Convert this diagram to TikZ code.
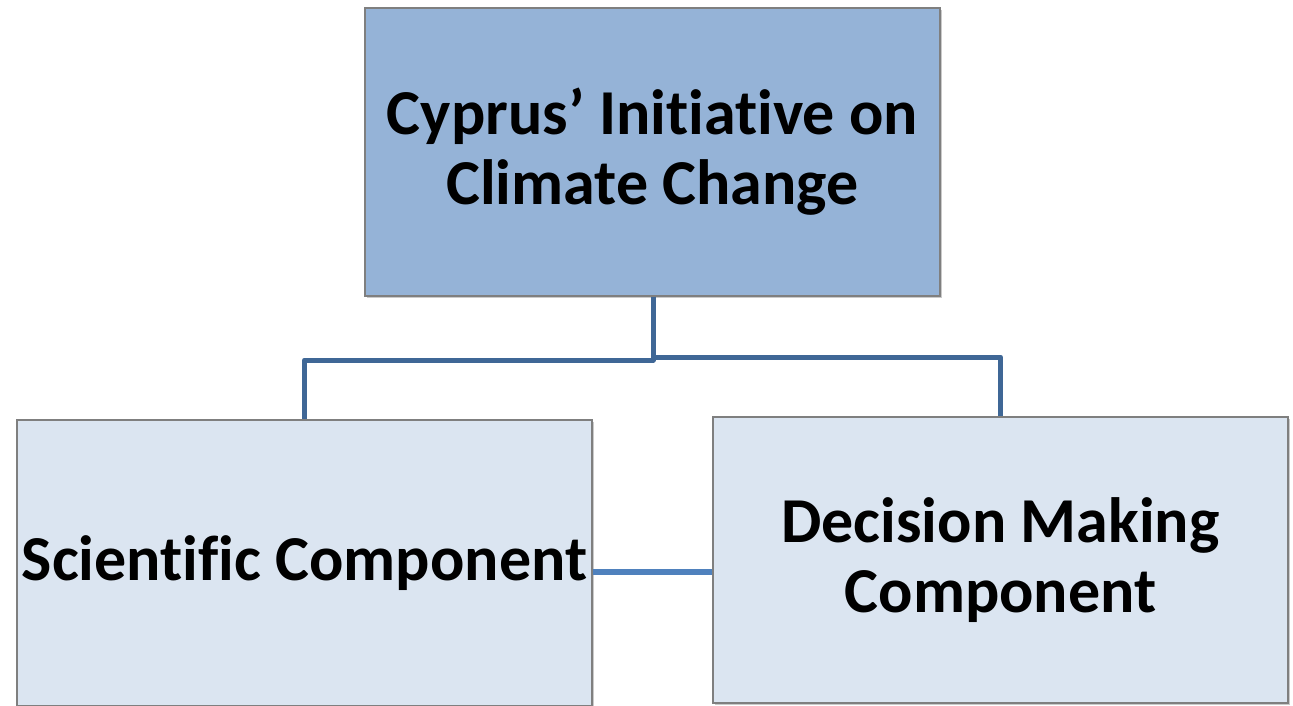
\documentclass[tikz,border=0pt]{standalone}
\usepackage{fontspec}
\setmainfont[Ligatures=NoCommon]{Carlito}
\usetikzlibrary{shadows}
\definecolor{topfill}{HTML}{95B3D7}
\definecolor{subfill}{HTML}{DBE5F1}
\definecolor{boxline}{HTML}{7F7F7F}
\definecolor{treeline}{HTML}{3F6796}
\definecolor{linkline}{HTML}{4F81BD}
\tikzset{
  box/.style={draw=boxline, line width=1.2pt, inner sep=0pt, align=center,
    font=\fontsize{64}{70}\selectfont\bfseries, text=black,
    drop shadow={shadow xshift=2pt, shadow yshift=-2pt, opacity=0.35, fill=black!60}},
  tree/.style={draw=treeline, line width=5pt, line join=round},
  link/.style={draw=linkline, line width=6pt}
}
\begin{document}
\begin{tikzpicture}[x=1pt,y=-1pt]
\useasboundingbox (0,0) rectangle (1293,705);
\node[box, fill=topfill, minimum width=575pt, minimum height=288pt] (top) at (652.5,152) {Cyprus’ Initiative on\\Climate Change};
\node[box, fill=subfill, minimum width=575pt, minimum height=286pt] (sci) at (304.5,563) {Scientific Component};
\node[box, fill=subfill, minimum width=575pt, minimum height=286pt] (dec) at (1000.5,560) {Decision Making\\Component};
\coordinate (jl) at (653,360);
\coordinate (jr) at (653,357);
\draw[tree] (top.south -| jl) -- (jl) -- (jl -| sci.north) -- (sci.north);
\draw[tree] (jr) -- (jr -| dec.north) -- (dec.north);
\draw[link] (sci.east |- 0,572) -- (dec.west |- 0,572);
\end{tikzpicture}
\end{document}
